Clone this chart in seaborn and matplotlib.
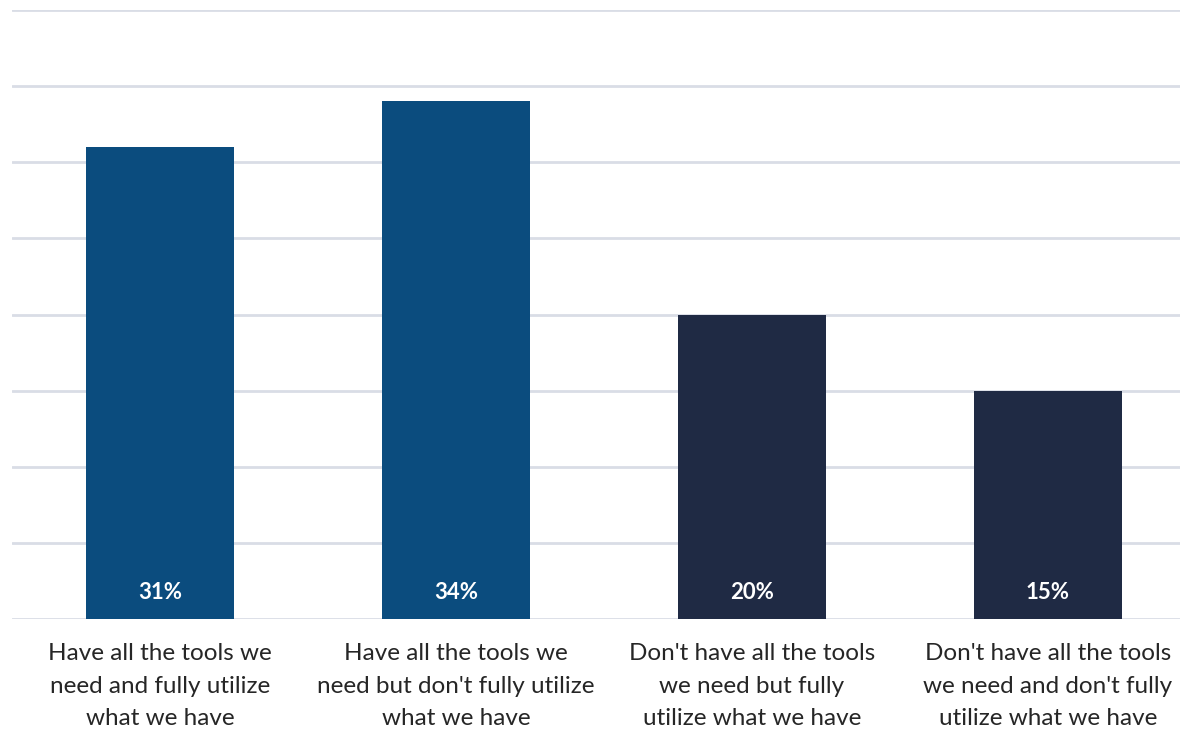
import matplotlib
matplotlib.use("Agg")
import matplotlib.pyplot as plt
import seaborn as sns
import pandas as pd

categories = [
    "Have all the tools we\nneed and fully utilize\nwhat we have",
    "Have all the tools we\nneed but don't fully utilize\nwhat we have",
    "Don't have all the tools\nwe need but fully\nutilize what we have",
    "Don't have all the tools\nwe need and don't fully\nutilize what we have",
]
values = [31, 34, 20, 15]
colors = ["#0B4C7E", "#0B4C7E", "#1F2A44", "#1F2A44"]

sns.set_theme(style="white")
plt.rcParams["font.family"] = ["Lato", "DejaVu Sans"]

df = pd.DataFrame({"category": categories, "value": values})

fig = plt.figure(figsize=(11.8, 7.3), dpi=100)
ax = fig.add_axes([12 / 1180, 111 / 730, 1184 / 1180, 609 / 730])

sns.barplot(data=df, x="category", y="value", hue="category",
            palette=colors, width=0.5, saturation=1, legend=False,
            linewidth=0, ax=ax)

ax.set_ylim(0, 40)
ax.set_yticks(range(0, 41, 5))
ax.set_yticklabels([])
ax.yaxis.grid(True, color="#D9DDE6", linewidth=2)
ax.set_axisbelow(True)
for s in ax.spines.values():
    s.set_visible(False)
ax.set_xlabel("")
ax.set_ylabel("")
ax.tick_params(axis="x", length=0, pad=17, labelsize=17.5, labelcolor="#262626")
ax.tick_params(axis="y", length=0)
for lbl in ax.get_xticklabels():
    lbl.set_linespacing(1.7)

for i, v in enumerate(values):
    ax.text(i, 1.75, f"{v}%", ha="center", va="center", color="white",
            fontsize=16, fontweight="bold")

fig.savefig("out.png", dpi=100)
